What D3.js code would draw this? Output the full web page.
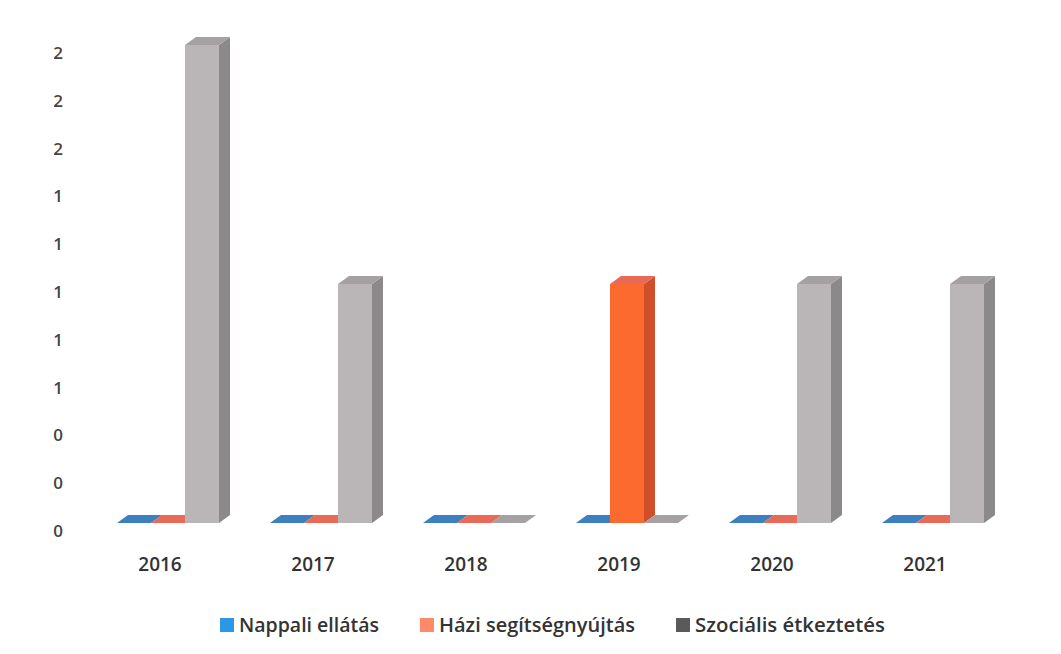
<!DOCTYPE html>
<html>
<head>
<meta charset="utf-8">
<script src="https://cdn.jsdelivr.net/npm/d3@7"></script>
<style>
  body { margin: 0; background: #fff; }
  text { font-family: "Open Sans", "DejaVu Sans", sans-serif; }
</style>
</head>
<body>
<div id="chart"></div>
<script>
var years = ["2016", "2017", "2018", "2019", "2020", "2021"],
	seriesNames = ["Nappali ellátás", "Házi segítségnyújtás", "Szociális étkeztetés"],
	nappali = [0, 0, 0, 0, 0, 0],
	hazi = [0, 0, 0, 1, 0, 0],
	szocialis = [2, 1, 0, 0, 1, 1],
	yTicks = [0, 0.2, 0.4, 0.6, 0.8, 1, 1.2, 1.4, 1.6, 1.8, 2];

var width = 1061,
	height = 654,
	dx = 11, dy = 8;

// front / side / top shading per series
var shades = [
	{ front: "#4a8ccc", side: "#2f6aa3", top: "#3d80c0", legend: "#2b98e6" },
	{ front: "#fd6a30", side: "#cf4f2a", top: "#ea6a58", legend: "#ff8a6a" },
	{ front: "#bab5b7", side: "#8c898b", top: "#a5a1a3", legend: "#5a5a5a" }
];

var svg = d3.select('#chart').append('svg')
	.attr('width', width)
	.attr('height', height);

var x0 = d3.scaleBand()
		.domain(years)
		.range([91.5, 1009.5])
		.paddingInner(1 / 3)
		.paddingOuter(1 / 6),
	x1 = d3.scaleBand()
		.domain([0, 1, 2])
		.range([0, x0.bandwidth()]),
	y = d3.scaleLinear()
		.domain([0, 2])
		.range([523, 45]);

// y tick labels (rounded like the original)
svg.append('g').selectAll('text')
	.data(yTicks)
	.enter().append('text')
	.attr('x', 63)
	.attr('y', function(d) { return y(d) + 8; })
	.attr('dy', '0.35em')
	.attr('text-anchor', 'end')
	.style('font-size', '17px')
	.style('font-weight', '600')
	.style('fill', '#444')
	.text(function(d) { return d3.format('.0f')(d); });

var data = [];
years.forEach(function(yr, i) {
	[nappali, hazi, szocialis].forEach(function(arr, s) {
		data.push({ year: yr, s: s, v: arr[i] });
	});
});

var bars = svg.append('g').selectAll('g')
	.data(data)
	.enter().append('g');

function bx(d) { return x0(d.year) + x1(d.s); }
var bw = x1.bandwidth();

bars.append('rect')
	.attr('x', bx)
	.attr('y', function(d) { return y(d.v); })
	.attr('width', bw)
	.attr('height', function(d) { return y(0) - y(d.v); })
	.style('fill', function(d) { return shades[d.s].front; });

bars.append('path')
	.attr('d', function(d) {
		var x = bx(d), t = y(d.v), b = y(0);
		return 'M' + (x + bw) + ',' + t + 'L' + (x + bw + dx) + ',' + (t - dy) +
			'L' + (x + bw + dx) + ',' + (b - dy) + 'L' + (x + bw) + ',' + b + 'Z';
	})
	.style('fill', function(d) { return shades[d.s].side; });

bars.append('path')
	.attr('d', function(d) {
		var x = bx(d), t = y(d.v);
		return 'M' + x + ',' + t + 'L' + (x + dx) + ',' + (t - dy) +
			'L' + (x + bw + dx) + ',' + (t - dy) + 'L' + (x + bw) + ',' + t + 'Z';
	})
	.style('fill', function(d) { return shades[d.s].top; });

// category labels
svg.append('g').selectAll('text')
	.data(years)
	.enter().append('text')
	.attr('x', function(d) { return x0(d) + x0.bandwidth() / 2 - 8; })
	.attr('y', 564)
	.attr('dy', '0.35em')
	.attr('text-anchor', 'middle')
	.style('font-size', '19px')
	.style('font-weight', '600')
	.style('fill', '#333')
	.text(function(d) { return d; });

// legend
var legendX = [220, 420, 676],
	legendW = [140, 196, 190];
var lg = svg.append('g').selectAll('g')
	.data(seriesNames)
	.enter().append('g')
	.attr('transform', function(d, i) { return 'translate(' + legendX[i] + ',625)'; });

lg.append('rect')
	.attr('x', 0)
	.attr('y', -7)
	.attr('width', 14)
	.attr('height', 14)
	.style('fill', function(d, i) { return shades[i].legend; });

lg.append('text')
	.attr('x', 19)
	.attr('y', 0)
	.attr('dy', '0.35em')
	.attr('textLength', function(d, i) { return legendW[i]; })
	.attr('lengthAdjust', 'spacingAndGlyphs')
	.style('font-size', '19px')
	.style('font-weight', '600')
	.style('fill', '#333')
	.text(function(d) { return d; });
</script>
</body>
</html>
